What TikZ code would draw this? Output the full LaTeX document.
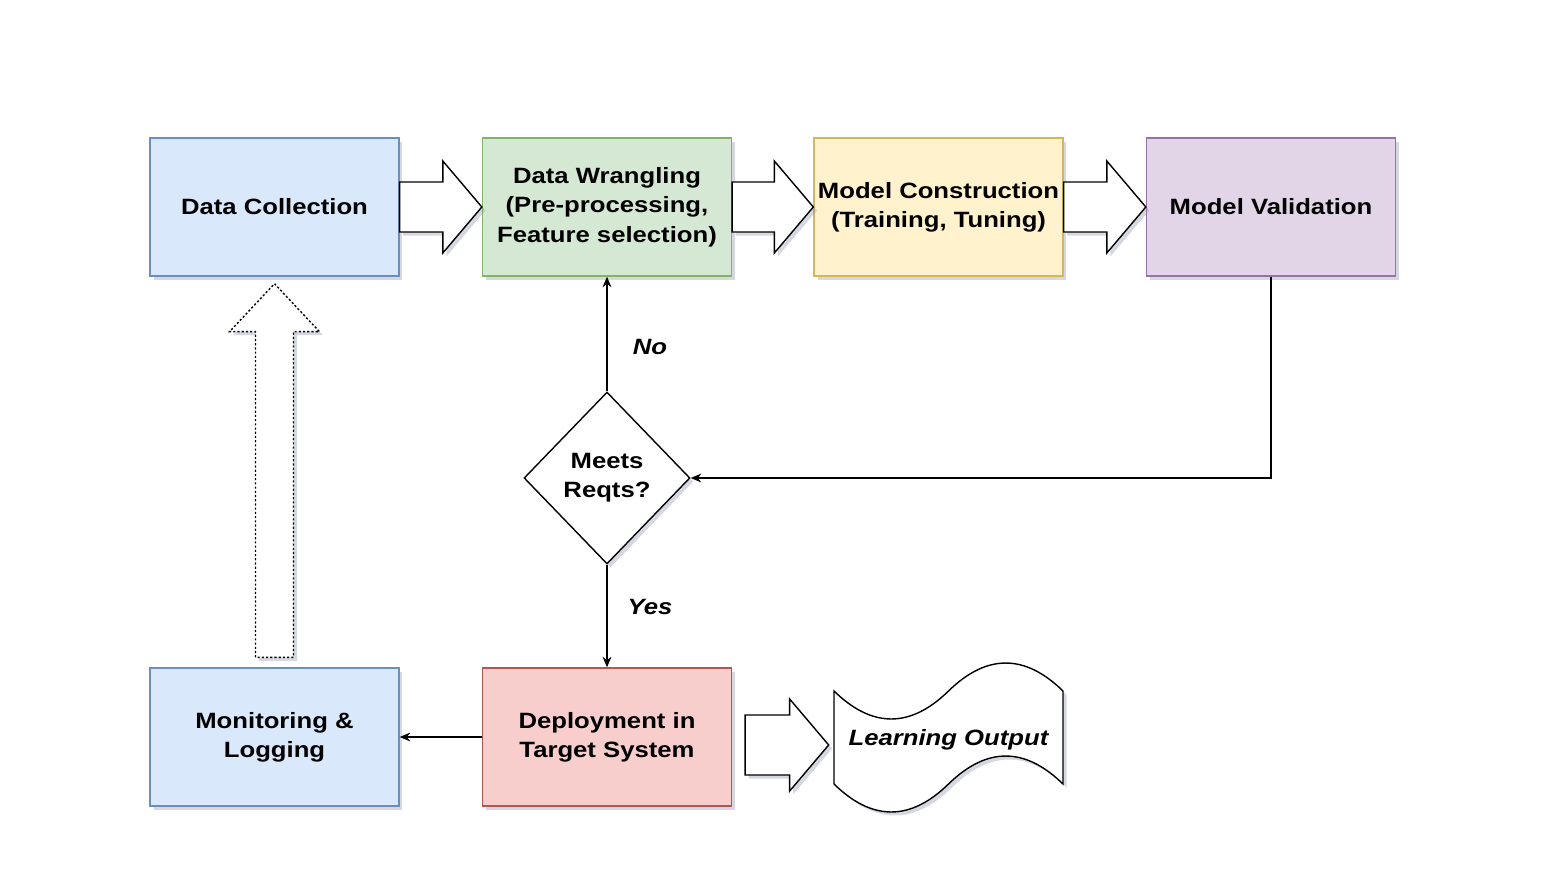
\documentclass[tikz,border=0pt]{standalone}
\usepackage{fontspec}
\setmainfont{Liberation Sans}[FakeStretch=1.16]
\usetikzlibrary{shapes.geometric,calc,shadows,arrows.meta}

\definecolor{bluefill}{HTML}{DAE8FC}
\definecolor{blueline}{HTML}{6C8EBF}
\definecolor{greenfill}{HTML}{D5E8D4}
\definecolor{greenline}{HTML}{82B366}
\definecolor{yellowfill}{HTML}{FFF2CC}
\definecolor{yellowline}{HTML}{D6B656}
\definecolor{purplefill}{HTML}{E1D5E7}
\definecolor{purpleline}{HTML}{9673A6}
\definecolor{redfill}{HTML}{F8CECC}
\definecolor{redline}{HTML}{B85450}
\definecolor{shadowcol}{HTML}{8A8FA8}

\tikzset{
  softshadow/.style={drop shadow={shadow xshift=2pt,shadow yshift=-2pt,opacity=0.35,fill=shadowcol}},
  stagebox/.style={rectangle, draw, line width=0.8pt, minimum width=4.98cm,
    minimum height=2.76cm, inner sep=0pt, align=center, softshadow},
  decision/.style={diamond, draw, line width=0.8pt, fill=white, minimum width=3.32cm,
    minimum height=3.44cm, inner sep=0pt, align=center, softshadow},
  flow/.style={line width=0.8pt, -{Stealth[length=6pt,width=5pt]}},
  bigarrow/.style={draw, line width=0.8pt, fill=white, line join=miter, softshadow},
  tag/.style={font=\bfseries\itshape\fontsize{12.6}{16.7}\selectfont}
}

% block arrow: #2 start, #3 tip, #4 half body, #5 half head, #6 head length
\newcommand{\blockarrow}[6][]{%
  \path (#2) coordinate (ba-s) (#3) coordinate (ba-e);
  \path ($(ba-e)!#6!(ba-s)$) coordinate (ba-b);
  \draw[bigarrow,#1] ($(ba-s)!#4!90:(ba-e)$) -- ($(ba-b)!#4!90:(ba-e)$)
    -- ($(ba-b)!#5!90:(ba-e)$) -- (ba-e) -- ($(ba-b)!#5!-90:(ba-e)$)
    -- ($(ba-b)!#4!-90:(ba-e)$) -- ($(ba-s)!#4!-90:(ba-e)$) -- cycle;
}

\begin{document}
\begin{tikzpicture}[x=0.02cm, y=-0.02cm, font=\bfseries\fontsize{12.6}{16.7}\selectfont]
  \useasboundingbox (0,0) rectangle (1549,873);

  % stages
  \node[stagebox, fill=bluefill, draw=blueline] (dc) at (274.5,207) {Data Collection};
  \node[stagebox, fill=greenfill, draw=greenline] (dw) at (607,207) {Data Wrangling\\(Pre-processing,\\Feature selection)};
  \node[stagebox, fill=yellowfill, draw=yellowline] (mc) at (938.5,207) {Model Construction\\(Training, Tuning)};
  \node[stagebox, fill=purplefill, draw=purpleline] (mv) at (1271,207) {Model Validation};
  \node[stagebox, fill=bluefill, draw=blueline] (ml) at (274.5,737) {Monitoring \&\\Logging};
  \node[stagebox, fill=redfill, draw=redline] (dep) at (607,737) {Deployment in\\Target System};
  \node[decision] (q) at (607,478) {Meets\\Reqts?};

  % output tape
  \draw[line width=0.8pt, fill=white, softshadow] (834,691)
    .. controls (872.2,728.3) and (910.3,728.3) .. (948.5,691)
    .. controls (986.7,653.7) and (1024.8,653.7) .. (1063,691) -- (1063,784)
    .. controls (1024.8,746.7) and (986.7,746.7) .. (948.5,784)
    .. controls (910.3,821.3) and (872.2,821.3) .. (834,784) -- cycle;
  \node[tag, minimum width=4.58cm, minimum height=3.1cm] (lo) at (948.5,740) {Learning Output};

  % block arrows
  \blockarrow{dc.east}{dw.west}{0.5cm}{0.92cm}{0.78cm}
  \blockarrow{dw.east}{mc.west}{0.5cm}{0.92cm}{0.78cm}
  \blockarrow{mc.east}{mv.west}{0.5cm}{0.92cm}{0.78cm}
  \blockarrow{$(dep.east)+(13,8)$}{$(lo.west)+(-5,5)$}{0.6cm}{0.92cm}{0.78cm}
  \blockarrow[dash pattern=on 1.2pt off 1.2pt]{$(ml.north)+(0,-10)$}{$(dc.south)+(0,7)$}{0.38cm}{0.9cm}{0.96cm}

  % flow lines
  \draw[flow] (mv.south) |- (q.east);
  \draw[flow] (q.north) -- (dw.south);
  \draw[flow] (q.south) -- (dep.north);
  \draw[flow] (dep.west) -- (ml.east);

  \node[tag] (no) at (650,347) {No};
  \node[tag] (yes) at (650,607) {Yes};
\end{tikzpicture}
\end{document}
